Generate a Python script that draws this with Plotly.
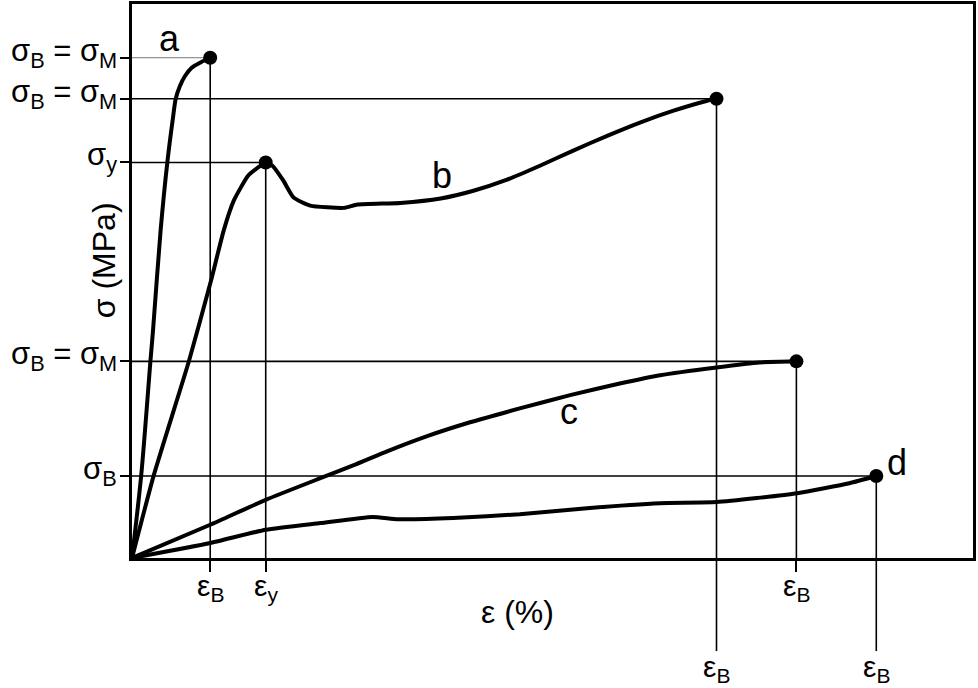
import plotly.graph_objects as go

# stress-strain curves, eps in %, sigma in arbitrary units (0..100 frame)
a_x = [0, 1.1, 2.2, 2.5, 3.4, 4.2, 4.9, 5.2, 5.7, 6.3, 7.1, 8.2, 9.3]
a_y = [0, 15.0, 35.7, 41.1, 59.1, 71.4, 79.8, 82.9, 85.2, 87.0, 88.5, 89.5, 90.3]

b_x = [0, 2.6, 6.8, 9.4, 10.9, 12.1, 13.8, 15.0, 15.9, 16.7, 18.0, 19.2, 21.2,
       25.2, 26.8, 31.9, 36.7, 40.6, 44.6, 48.5, 52.4, 56.5, 60.4, 64.3, 68.3, 69.5]
b_y = [0, 15.0, 35.7, 50.1, 59.1, 64.5, 69.0, 70.5, 71.4, 70.8, 68.1, 65.1, 63.6,
       63.2, 63.8, 64.1, 64.9, 66.3, 68.3, 70.8, 73.5, 76.2, 78.6, 80.7, 82.5, 82.9]
b_yield = [15.9, 71.4]

c_x = [0, 9.3, 15.9, 22.4, 26.3, 30.4, 35.1, 40.2, 46.1, 52.1, 58.0, 62.8, 69.5, 74.6, 79.0]
c_y = [0, 6.0, 10.5, 14.4, 16.7, 19.3, 22.0, 24.5, 27.0, 29.4, 31.5, 33.0, 34.4, 35.3, 35.5]

d_x = [0, 9.3, 15.9, 22.4, 28.6, 31.6, 38.2, 46.1, 54.1, 62.8, 69.5, 79.1, 85.3, 88.5]
d_y = [0, 2.7, 5.1, 6.3, 7.4, 7.0, 7.2, 7.9, 9.0, 9.9, 10.1, 11.7, 13.5, 14.8]

# curve names and where their letter sits
curve_names = ["a", "b", "c", "d"]
label_x = [4.5, 36.9, 52.0, 91.0]
label_y = [93.7, 69.0, 26.5, 17.3]

SB_SM = "σ<sub>B</sub> = σ<sub>M</sub>"
# order follows the points list: a break, b yield, b break, c break, d break
y_tick_text = [SB_SM, "σ<sub>y</sub>", SB_SM, SB_SM, "σ<sub>B</sub>"]
x_tick_text = ["ε<sub>B</sub>", "ε<sub>y</sub>", "ε<sub>B</sub>", "ε<sub>B</sub>", "ε<sub>B</sub>"]
x_tick_low = [False, False, True, False, True]   # long markers for b and d

X_MAX, Y_MAX = 100, 100
DROP_Y = -16.8   # how far the long strain markers hang below the frame
FONT = "Liberation Sans, Arial, sans-serif"

a_end = [a_x[-1], a_y[-1]]
b_end = [b_x[-1], b_y[-1]]
c_end = [c_x[-1], c_y[-1]]
d_end = [d_x[-1], d_y[-1]]
points = [a_end, b_yield, b_end, c_end, d_end]

fig = go.Figure()

# guide lines from the axes to each characteristic point
for i, (px, py) in enumerate(points):
    thin = (i == 0)
    fig.add_trace(go.Scatter(
        x=[0, px], y=[py, py], mode="lines",
        line=dict(color="#777777" if thin else "black", width=1 if thin else 1.6),
        hoverinfo="skip", showlegend=False,
    ))
    fig.add_trace(go.Scatter(
        x=[px, px], y=[0, py], mode="lines",
        line=dict(color="black", width=1.6),
        hoverinfo="skip", showlegend=False,
    ))

# curve a bends hard at the top, so it gets a softer spline
for xs, ys, sm in [(a_x, a_y, 0.8), (b_x, b_y, 0.5), (c_x, c_y, 0.5), (d_x, d_y, 0.5)]:
    fig.add_trace(go.Scatter(
        x=xs, y=ys, mode="lines",
        line=dict(color="black", width=4, shape="spline", smoothing=sm),
        hoverinfo="skip", showlegend=False,
    ))

fig.add_trace(go.Scatter(
    x=[p[0] for p in points], y=[p[1] for p in points], mode="markers",
    marker=dict(color="black", size=14), cliponaxis=False,
    hoverinfo="skip", showlegend=False,
))

# long strain markers for b and d hang below the frame
shapes = []
for (px, py), low in zip(points, x_tick_low):
    if low:
        shapes.append(dict(type="line", xref="x", yref="paper",
                           x0=px, x1=px, y0=DROP_Y / Y_MAX, y1=0,
                           line=dict(color="black", width=1.6)))

annotations = []
for name, lx, ly in zip(curve_names, label_x, label_y):
    annotations.append(dict(x=lx, y=ly, xref="x", yref="y", text=name,
                            showarrow=False, font=dict(size=36, color="black", family=FONT)))

# strain labels under the frame
for (px, py), txt, low in zip(points, x_tick_text, x_tick_low):
    annotations.append(dict(x=px, y=-0.1625 if low else -0.016, xref="x", yref="paper",
                            text=txt, showarrow=False, xanchor="center", yanchor="top",
                            font=dict(size=30, color="black", family=FONT)))

# stress labels left of the frame
for (px, py), txt in zip(points, y_tick_text):
    annotations.append(dict(x=-0.0155, y=py, xref="paper", yref="y", text=txt,
                            showarrow=False, xanchor="right", yanchor="middle", yshift=5,
                            font=dict(size=31, color="black", family=FONT)))

annotations.append(dict(x=0.458, y=-0.062, xref="paper", yref="paper", text="ε (%)",
                        showarrow=False, xanchor="center", yanchor="top",
                        font=dict(size=32, color="black", family=FONT)))
annotations.append(dict(x=-0.033, y=0.538, xref="paper", yref="paper", text="σ (MPa)",
                        showarrow=False, textangle=-90, xanchor="center", yanchor="middle",
                        font=dict(size=32, color="black", family=FONT)))

fig.update_xaxes(
    range=[0, X_MAX], showgrid=False, zeroline=False, automargin=False,
    showline=True, mirror=True, linecolor="black", linewidth=3,
    tickvals=[p[0] for p, low in zip(points, x_tick_low) if not low],
    ticks="outside", ticklen=11, tickwidth=1.6, tickcolor="black",
    showticklabels=False,
)
fig.update_yaxes(
    range=[0, Y_MAX], showgrid=False, zeroline=False, automargin=False,
    showline=True, mirror=True, linecolor="black", linewidth=3,
    tickvals=[p[1] for p in points],
    ticks="outside", ticklen=9, tickwidth=1.6, tickcolor="black",
    showticklabels=False,
)

fig.update_layout(
    width=978, height=688,
    margin=dict(l=132, r=5, t=4, b=130),
    plot_bgcolor="white", paper_bgcolor="white",
    shapes=shapes, annotations=annotations,
)

# page body has a default 8px margin; drop it so the figure fills the window
fig.write_html("out.html", config={"displayModeBar": False},
               post_script="document.body.style.margin = '0';")
